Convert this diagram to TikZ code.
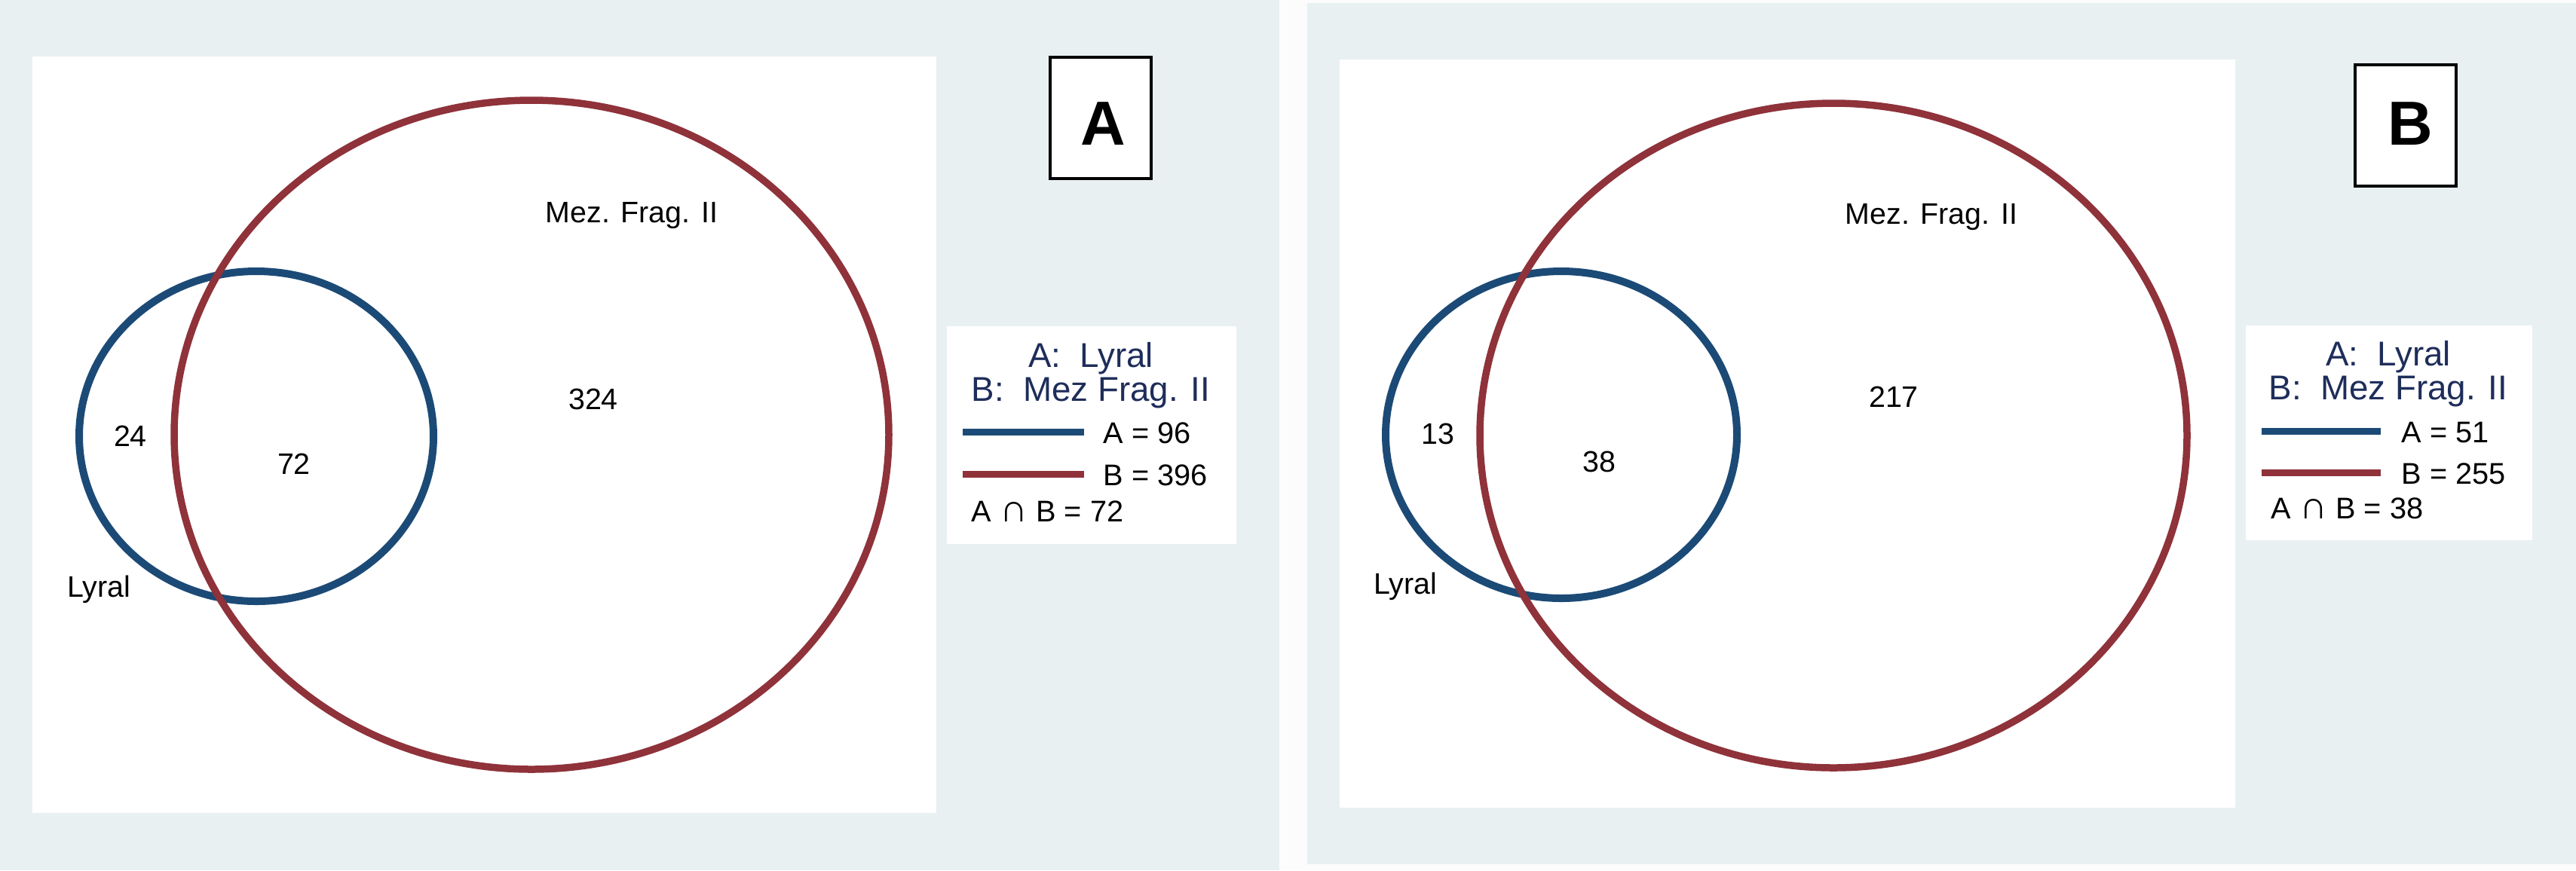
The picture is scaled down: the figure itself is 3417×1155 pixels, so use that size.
\documentclass[tikz,border=0pt]{standalone}
\usepackage{fontspec}
\setmainfont{Liberation Sans}
\definecolor{panelbg}{RGB}{232,240,242}
\definecolor{gapbg}{RGB}{252,252,252}
\definecolor{vblue}{RGB}{28,74,118}
\definecolor{vred}{RGB}{143,50,58}
\definecolor{navy}{RGB}{30,45,90}
\newcommand{\bigcapsym}{\scalebox{1.3}{∩}}
\begin{document}
\begin{tikzpicture}[x=0.1mm,y=-0.1mm,
  lbl/.style={anchor=base,inner sep=0pt,font=\fontsize{11.2pt}{13pt}\selectfont},
  legtitle/.style={anchor=base,inner sep=0pt,text=navy,font=\fontsize{13pt}{15pt}\selectfont},
  legval/.style={anchor=base west,inner sep=0pt,font=\fontsize{11.3pt}{13pt}\selectfont},
  tagbox/.style={draw=black,line width=0.35mm,fill=white,minimum width=13.4mm,minimum height=16.1mm,inner sep=0pt},
  tagtxt/.style={anchor=base,inner sep=0pt,font=\fontsize{23.5pt}{26pt}\selectfont\bfseries},
  bluering/.style={draw=vblue,line width=1.0mm},
  redring/.style={draw=vred,line width=0.95mm},
  legline/.style={line width=0.9mm}]
\useasboundingbox (0,0) rectangle (3417,1155);
\fill[gapbg] (0,0) rectangle (3417,1155);
% panels
\fill[panelbg] (0,0) rectangle (1697,1155);
\fill[panelbg] (1734,4) rectangle (3417,1147);
\fill[white] (43,75) rectangle (1242,1079);
\fill[white] (1777,79) rectangle (2965,1072);
% ===== Panel A =====
\draw[bluering] (340,579) ellipse [x radius=23.5mm, y radius=21.9mm];
\draw[redring] (705,577) ellipse [x radius=47.4mm, y radius=44.4mm];
\node[lbl] (a24) at (173,592) {24};
\node[lbl] (a72) at (390,629) {72};
\node[lbl] (a324) at (787,543) {324};
\node[lbl] (alyral) at (131,792) {Lyral};
\node[lbl] (amez) at (838,295) {Mez. Frag. II};
\node[tagbox] (atag) at (1460,156.5) {};
\node[tagtxt] (atagtxt) at (1463,192) {A};
\fill[white] (1256,433) rectangle (1640,722);
\node[legtitle] (at1) at (1447,487) {A:\ \ Lyral};
\node[legtitle] (at2) at (1447,532) {B:\ \ Mez Frag. II};
\coordinate (alb1) at (1277,573); \coordinate (alb2) at (1438,573);
\coordinate (alr1) at (1277,629); \coordinate (alr2) at (1438,629);
\draw[legline,vblue] (alb1) -- (alb2);
\draw[legline,vred] (alr1) -- (alr2);
\node[legval] (av1) at (1463,588) {A = 96};
\node[legval] (av2) at (1463,644) {B = 396};
\node[legval] (av3) at (1288,692) {A \bigcapsym{} B = 72};
% ===== Panel B =====
\draw[bluering] (2071,577) ellipse [x radius=23.3mm, y radius=21.7mm];
\draw[redring] (2432,578) ellipse [x radius=46.9mm, y radius=44.1mm];
\node[lbl] (b13) at (1907,589) {13};
\node[lbl] (b38) at (2121,626) {38};
\node[lbl] (b217) at (2512,540) {217};
\node[lbl] (blyral) at (1864,788) {Lyral};
\node[lbl] (bmez) at (2562,297) {Mez. Frag. II};
\node[tagbox] (btag) at (3191,166.5) {};
\node[tagtxt] (btagtxt) at (3197,192) {B};
\fill[white] (2979,432) rectangle (3359,717);
\node[legtitle] (bt1) at (3168,485) {A:\ \ Lyral};
\node[legtitle] (bt2) at (3168,530) {B:\ \ Mez Frag. II};
\coordinate (blb1) at (3000,572); \coordinate (blb2) at (3158,572);
\coordinate (blr1) at (3000,627); \coordinate (blr2) at (3158,627);
\draw[legline,vblue] (blb1) -- (blb2);
\draw[legline,vred] (blr1) -- (blr2);
\node[legval] (bv1) at (3185,587) {A = 51};
\node[legval] (bv2) at (3185,642) {B = 255};
\node[legval] (bv3) at (3012,688) {A \bigcapsym{} B = 38};
\end{tikzpicture}
\end{document}
